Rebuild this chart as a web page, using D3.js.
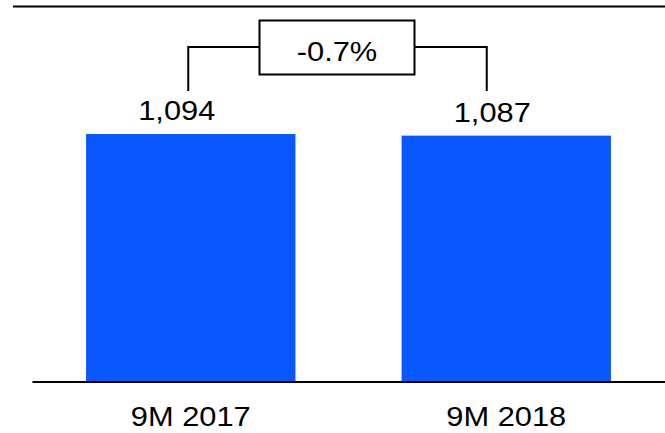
<!DOCTYPE html>
<html>
<head>
<meta charset="utf-8">
<script src="https://cdn.jsdelivr.net/npm/d3@7"></script>
<style>
  html, body { margin: 0; padding: 0; background: #fff; }
  svg { display: block; }
  text { font-family: "Liberation Sans", Arial, sans-serif; fill: #000; }
</style>
</head>
<body>
<script>
// Period totals and the change between them
const categories = ["9M 2017", "9M 2018"];
const values = [1094, 1087];
const valueLabels = ["1,094", "1,087"];
const changeLabel = "-0.7%";

const W = 665, H = 433;
const fontSize = 28.5;
const stretch = 1.08; // horizontal text stretch

const svg = d3.select("body").append("svg")
  .attr("width", W).attr("height", H);

const x = d3.scaleBand()
  .domain(categories)
  .range([32, 665])
  .paddingInner(0.3365)
  .paddingOuter(0.1714);

const baseY = 381.5;
const y = d3.scaleLinear()
  .domain([0, 1200])
  .range([baseY, baseY - 1200 * 0.2262]);

// Rule across the top
svg.append("line")
  .attr("x1", 13).attr("x2", W)
  .attr("y1", 6.5).attr("y2", 6.5)
  .attr("stroke", "#000").attr("stroke-width", 2);

// Bars
svg.selectAll("rect.bar")
  .data(categories)
  .join("rect")
  .attr("class", "bar")
  .attr("x", d => x(d))
  .attr("width", x.bandwidth())
  .attr("y", (d, i) => y(values[i]))
  .attr("height", (d, i) => y(0) - y(values[i]))
  .attr("fill", "#0957ff");

// Category axis along the baseline
const axis = svg.append("g")
  .attr("transform", `translate(0,${baseY})`)
  .call(d3.axisBottom(x).tickSize(0).tickPadding(0));
axis.select(".domain")
  .attr("stroke", "#000").attr("stroke-width", 2);
axis.selectAll(".tick text")
  .attr("y", 44.5).attr("dy", null)
  .attr("font-size", fontSize)
  .attr("font-family", "Liberation Sans, Arial, sans-serif")
  .attr("fill", "#000")
  .attr("transform", `scale(${stretch},1)`);

// Value labels above bars
const labelG = svg.selectAll("g.vlabel")
  .data(categories)
  .join("g")
  .attr("class", "vlabel")
  .attr("transform", (d, i) =>
    `translate(${x(d) + x.bandwidth() / 2 - 14},${y(values[i]) - 14})`);
labelG.append("text")
  .attr("text-anchor", "middle")
  .attr("font-size", fontSize)
  .attr("transform", `scale(${stretch},1)`)
  .text((d, i) => valueLabels[i]);

// Change bracket connecting the two labels
const leftX = x(categories[0]) + x.bandwidth() / 2 - 2.5;
const rightX = x(categories[1]) + x.bandwidth() / 2 - 19.5;
const bracketY = 47;
const bracketBottom = 91;
const boxW = 155, boxH = 54;
const boxCx = (leftX + rightX) / 2 - 0.5;
const boxTop = 20.5;

svg.append("path")
  .attr("d", `M${leftX},${bracketBottom}V${bracketY}H${boxCx - boxW / 2}` +
             `M${boxCx + boxW / 2},${bracketY}H${rightX}V${bracketBottom}`)
  .attr("fill", "none").attr("stroke", "#000").attr("stroke-width", 2);

svg.append("rect")
  .attr("x", boxCx - boxW / 2).attr("y", boxTop)
  .attr("width", boxW).attr("height", boxH)
  .attr("fill", "#fff").attr("stroke", "#000").attr("stroke-width", 2);

svg.append("g")
  .attr("transform", `translate(${boxCx},60.5)`)
  .append("text")
  .attr("text-anchor", "middle")
  .attr("font-size", fontSize)
  .attr("transform", `scale(${stretch},1)`)
  .text(changeLabel);
</script>
</body>
</html>
